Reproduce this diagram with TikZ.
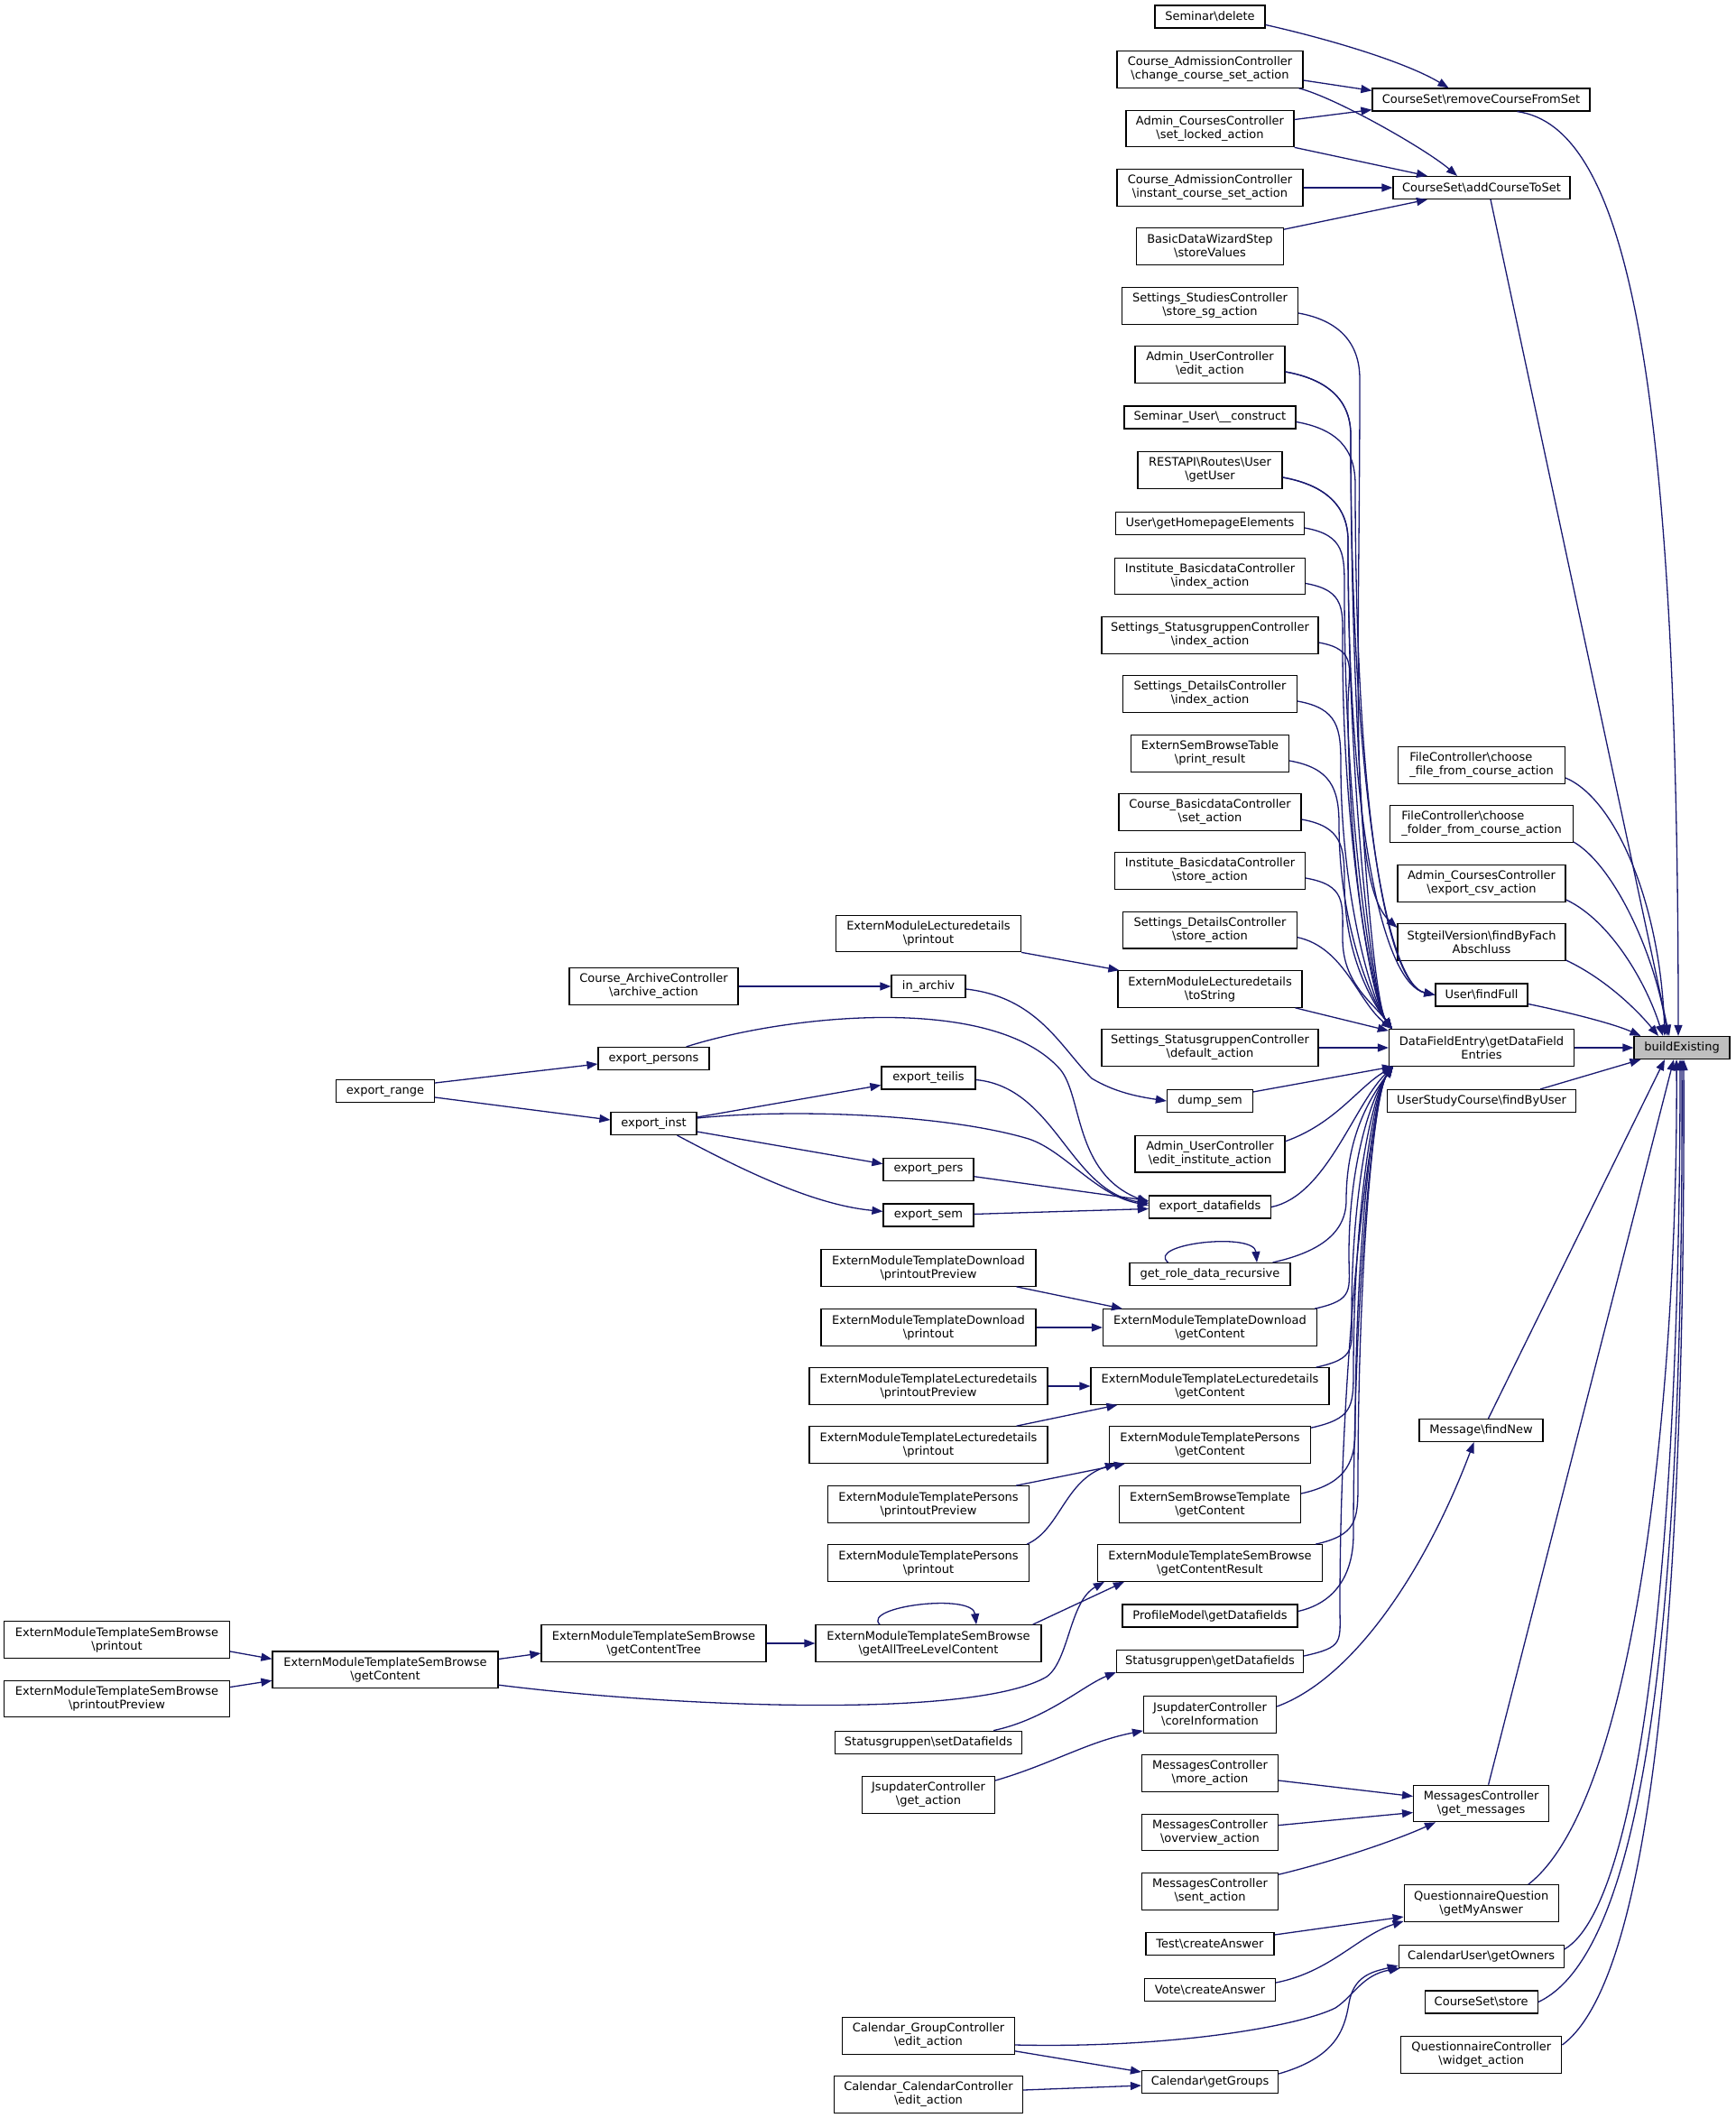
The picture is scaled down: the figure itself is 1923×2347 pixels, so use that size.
\documentclass[tikz,border=0pt]{standalone}
\usepackage{fontspec}
\setmainfont{DejaVu Sans}
\usetikzlibrary{arrows.meta,calc}
\definecolor{edgec}{HTML}{191970}
\definecolor{hilite}{HTML}{BFBFBF}
\newcommand{\mybs}{\textbackslash}
\newcommand{\dfup}[3]{\draw[e] (#1) .. controls +(45,8) and +(0,-40) .. (#2) .. controls +(0,#3) and +(-22,-30) .. ($(dfe.north west)+(4,0)$);}
\newcommand{\dfdn}[3]{\draw[e] (#1) .. controls +(45,-10) and +(0,40) .. (#2) .. controls +(0,-#3) and +(-22,30) .. ($(dfe.south west)+(5,0)$);}
\begin{document}
\begin{tikzpicture}[x=1pt,y=-1pt,
  nd/.style={draw=black,line width=1.2pt,fill=white,font=\fontsize{13}{15}\selectfont,inner xsep=5pt,inner ysep=1pt,minimum height=25pt,align=center},
  nd2/.style={nd,minimum height=40.5pt},
  e/.style={draw=edgec,line width=1.3pt,-{Triangle[length=12pt,width=9pt]}},
]
\useasboundingbox (0,0) rectangle (1923,2347);
% rank 2
\node[nd,minimum width=122pt] (sd) at (1341,18.5) {Seminar\mybs delete};
\node[nd2,minimum width=206pt] (cac) at (1341,77) {Course\_AdmissionController\\\mybs change\_course\_set\_action};
\node[nd2,minimum width=186pt] (csl) at (1341,142.5) {Admin\_CoursesController\\\mybs set\_locked\_action};
\node[nd2,minimum width=206pt] (cai) at (1341,208) {Course\_AdmissionController\\\mybs instant\_course\_set\_action};
\node[nd2,minimum width=163pt] (bdw) at (1341,273) {BasicDataWizardStep\\\mybs storeValues};
\node[nd2,minimum width=195pt] (ssg) at (1341,339) {Settings\_StudiesController\\\mybs store\_sg\_action};
\node[nd2,minimum width=166pt] (aue) at (1341,404) {Admin\_UserController\\\mybs edit\_action};
\node[nd,minimum width=190pt] (suc) at (1341,462.5) {Seminar\_User\mybs\_\_construct};
\node[nd2,minimum width=160pt] (rgu) at (1341,521) {RESTAPI\mybs Routes\mybs User\\\mybs getUser};
\node[nd,minimum width=209pt] (uhe) at (1341,580) {User\mybs getHomepageElements};
\node[nd2,minimum width=211pt] (ibi) at (1341,638.5) {Institute\_BasicdataController\\\mybs index\_action};
\node[nd2,minimum width=240pt] (ssi) at (1341,704) {Settings\_StatusgruppenController\\\mybs index\_action};
\node[nd2,minimum width=193pt] (sdi) at (1341,769) {Settings\_DetailsController\\\mybs index\_action};
\node[nd2,minimum width=175pt] (esp) at (1341,835) {ExternSemBrowseTable\\\mybs print\_result};
\node[nd2,minimum width=202pt] (cbs) at (1341,900) {Course\_BasicdataController\\\mybs set\_action};
\node[nd2,minimum width=211pt] (ibs) at (1341,965) {Institute\_BasicdataController\\\mybs store\_action};
\node[nd2,minimum width=193pt] (sds) at (1341,1030.7) {Settings\_DetailsController\\\mybs store\_action};
\node[nd2,minimum width=204pt] (elt) at (1341,1096) {ExternModuleLecturedetails\\\mybs toString};
\node[nd2,minimum width=240pt] (ssd) at (1341,1161) {Settings\_StatusgruppenController\\\mybs default\_action};
\node[nd,minimum width=95pt] (dsm) at (1341,1220) {dump\_sem};
\node[nd2,minimum width=166pt] (aui) at (1341,1278.7) {Admin\_UserController\\\mybs edit\_institute\_action};
\node[nd,minimum width=135pt] (exd) at (1341,1337.5) {export\_datafields};
\node[nd,minimum width=178pt] (grd) at (1341,1412) {get\_role\_data\_recursive};
\node[nd2,minimum width=237pt] (tdg) at (1341,1471) {ExternModuleTemplateDownload\\\mybs getContent};
\node[nd2,minimum width=264pt] (tlg) at (1341,1536) {ExternModuleTemplateLecturedetails\\\mybs getContent};
\node[nd2,minimum width=223pt] (tpg) at (1341,1601) {ExternModuleTemplatePersons\\\mybs getContent};
\node[nd2,minimum width=201pt] (sbt) at (1341,1667) {ExternSemBrowseTemplate\\\mybs getContent};
\node[nd2,minimum width=249pt] (tsr) at (1341,1732) {ExternModuleTemplateSemBrowse\\\mybs getContentResult};
\node[nd,minimum width=194pt] (pmg) at (1341,1790.5) {ProfileModel\mybs getDatafields};
\node[nd,minimum width=207pt] (sgg) at (1341,1841) {Statusgruppen\mybs getDatafields};
\node[nd2,minimum width=147pt] (jci) at (1341,1900) {JsupdaterController\\\mybs coreInformation};
\node[nd2,minimum width=151pt] (mma) at (1341,1965) {MessagesController\\\mybs more\_action};
\node[nd2,minimum width=151pt] (moa) at (1341,2030.6) {MessagesController\\\mybs overview\_action};
\node[nd2,minimum width=151pt] (msa) at (1341,2096) {MessagesController\\\mybs sent\_action};
\node[nd,minimum width=142pt] (tca) at (1341,2154) {Test\mybs createAnswer};
\node[nd,minimum width=145pt] (vca) at (1341,2205) {Vote\mybs createAnswer};
\node[nd,minimum width=151pt] (cgg) at (1341,2307) {Calendar\mybs getGroups};
% rank 1
\node[nd,minimum width=241pt] (rcs) at (1641.5,110.5) {CourseSet\mybs removeCourseFromSet};
\node[nd,minimum width=196pt] (acs) at (1642,208) {CourseSet\mybs addCourseToSet};
\node[nd2,minimum width=185pt,align=left] (fcf) at (1642,848) {FileController\mybs choose\\\_file\_from\_course\_action};
\node[nd2,minimum width=203pt,align=left] (fcd) at (1642,913) {FileController\mybs choose\\\_folder\_from\_course\_action};
\node[nd2,minimum width=186pt] (ace) at (1642,979) {Admin\_CoursesController\\\mybs export\_csv\_action};
\node[nd2,minimum width=186pt] (sv) at (1642,1044) {StgteilVersion\mybs findByFach\\Abschluss};
\node[nd,minimum width=102pt] (uff) at (1642,1102.5) {User\mybs findFull};
\node[nd2,minimum width=205pt] (dfe) at (1642,1161) {DataFieldEntry\mybs getDataField\\Entries};
\node[nd,minimum width=209pt] (usc) at (1642,1220) {UserStudyCourse\mybs findByUser};
\node[nd,minimum width=137pt] (mfn) at (1641.5,1585) {Message\mybs findNew};
\node[nd2,minimum width=150pt] (mgm) at (1641.6,1998.5) {MessagesController\\\mybs get\_messages};
\node[nd2,minimum width=171pt] (qgm) at (1641.7,2109) {QuestionnaireQuestion\\\mybs getMyAnswer};
\node[nd,minimum width=183pt] (cgo) at (1641.7,2168) {CalendarUser\mybs getOwners};
\node[nd,minimum width=125pt] (css) at (1641.7,2218.5) {CourseSet\mybs store};
\node[nd2,minimum width=178pt] (qwa) at (1641.8,2277) {QuestionnaireController\\\mybs widget\_action};
% rank 0
\node[nd,minimum width=106pt,fill=hilite] (be) at (1864,1161) {buildExisting};
% rank 3
\node[nd2,minimum width=205pt] (elp) at (1029,1034.5) {ExternModuleLecturedetails\\\mybs printout};
\node[nd,minimum width=82pt] (iar) at (1029,1093) {in\_archiv};
\node[nd,minimum width=104pt] (ete) at (1029,1194.5) {export\_teilis};
\node[nd,minimum width=100pt] (epe) at (1029,1295.7) {export\_pers};
\node[nd,minimum width=100pt] (ese) at (1029,1346.4) {export\_sem};
\node[nd2,minimum width=238pt] (dpp) at (1029,1405) {ExternModuleTemplateDownload\\\mybs printoutPreview};
\node[nd2,minimum width=238pt] (dpo) at (1029,1471) {ExternModuleTemplateDownload\\\mybs printout};
\node[nd2,minimum width=264pt] (lpp) at (1029,1536) {ExternModuleTemplateLecturedetails\\\mybs printoutPreview};
\node[nd2,minimum width=264pt] (lpo) at (1029,1601) {ExternModuleTemplateLecturedetails\\\mybs printout};
\node[nd2,minimum width=223pt] (ppp) at (1029,1667) {ExternModuleTemplatePersons\\\mybs printoutPreview};
\node[nd2,minimum width=223pt] (ppo) at (1029,1732) {ExternModuleTemplatePersons\\\mybs printout};
\node[nd2,minimum width=250pt] (atl) at (1029,1821) {ExternModuleTemplateSemBrowse\\\mybs getAllTreeLevelContent};
\node[nd,minimum width=207pt] (ssf) at (1029,1930.7) {Statusgruppen\mybs setDatafields};
\node[nd2,minimum width=147pt] (jga) at (1029,1989) {JsupdaterController\\\mybs get\_action};
\node[nd2,minimum width=191pt] (cge) at (1029,2256) {Calendar\_GroupController\\\mybs edit\_action};
\node[nd2,minimum width=209pt] (cce) at (1029,2321) {Calendar\_CalendarController\\\mybs edit\_action};
% rank 4
\node[nd2,minimum width=187pt] (caa) at (724.5,1093) {Course\_ArchiveController\\\mybs archive\_action};
\node[nd,minimum width=123pt] (eps) at (724.5,1173) {export\_persons};
\node[nd,minimum width=95pt] (ein) at (724.5,1245) {export\_inst};
\node[nd2,minimum width=249pt] (sct) at (724.5,1821) {ExternModuleTemplateSemBrowse\\\mybs getContentTree};
% rank 5
\node[nd,minimum width=109pt] (erg) at (427,1209) {export\_range};
\node[nd2,minimum width=250pt] (sgc) at (427,1850.3) {ExternModuleTemplateSemBrowse\\\mybs getContent};
% rank 6
\node[nd2,minimum width=250pt] (spo) at (129.5,1817) {ExternModuleTemplateSemBrowse\\\mybs printout};
\node[nd2,minimum width=250pt] (spp) at (129.5,1882.5) {ExternModuleTemplateSemBrowse\\\mybs printoutPreview};

% ---- edges into CourseSet
\draw[e] ($(sd.east)+(0,9)$) .. controls (1480,45) and (1560,70) .. ($(rcs.north)+(-36,0)$);
\draw[e] ($(cac.east)+(0,12)$) -- ($(rcs.north west)+(0,3)$);
\draw[e] ($(cac.south east)+(-5,0)$) .. controls (1480,108) and (1580,165) .. ($(acs.north)+(-27,0)$);
\draw[e] ($(csl.east)+(0,-10)$) -- ($(rcs.south west)+(0,-2)$);
\draw[e] (csl.south east) -- ($(acs.north)+(-60,0)$);
\draw[e] (cai.east) -- (acs.west);
\draw[e] ($(bdw.north east)+(0,2)$) -- ($(acs.south)+(-60,0)$);
% ---- edges into buildExisting
\draw[e] ($(rcs.south)+(40,0)$) .. controls (1800,140) and (1860,400) .. ($(be.north)+(-4,0)$);
\draw[e] ($(acs.south)+(10,0)$) -- ($(be.north)+(-14,0)$);
\draw[e] ($(fcf.east)+(0,14)$) .. controls (1790,885) and (1840,1000) .. ($(be.north)+(-19,0)$);
\draw[e] ($(fcd.east)+(0,20)$) .. controls (1790,960) and (1835,1060) .. ($(be.north)+(-16,0)$);
\draw[e] ($(ace.east)+(0,18)$) .. controls (1785,1020) and (1825,1090) .. ($(be.north)+(-21,0)$);
\draw[e] ($(sv.east)+(0,20)$) .. controls (1780,1085) and (1815,1120) .. ($(be.north)+(-26,0)$);
\draw[e] ($(uff.east)+(0,10)$) .. controls (1740,1122) and (1790,1135) .. ($(be.north west)+(8,0)$);
\draw[e] (dfe.east) -- (be.west);
\draw[e] ($(usc.north east)+(-40,0)$) -- ($(be.south west)+(8,0)$);
\draw[e] ($(mfn.north)+(8,0)$) -- ($(be.south)+(-19,0)$);
\draw[e] ($(mgm.north)+(8,0)$) -- ($(be.south)+(-9,0)$);
\draw[e] ($(qgm.north east)+(-34,0)$) .. controls (1820,1990) and (1860,1500) .. ($(be.south)+(-6,0)$);
\draw[e] ($(cgo.east)+(0,-8)$) .. controls (1820,2110) and (1862,1700) .. ($(be.south)+(-2,0)$);
\draw[e] (css.east) .. controls (1830,2160) and (1866,1750) .. ($(be.south)+(0,0)$);
\draw[e] ($(qwa.east)+(0,-11)$) .. controls (1835,2190) and (1868,1750) .. ($(be.south)+(2,0)$);
% ---- upper bundle
\draw[e] ($(ssg.east)+(0,8)$) .. controls +(45,8) and +(0,-40) .. (1507,420) .. controls +(0,330) and +(-55,-50) .. ($(sv.west)+(0,-16)$);
\dfup{$(aue.east)+(0,8)$}{1497,482}{330}
\draw[e] ($(aue.east)+(0,8)$) .. controls +(45,8) and +(0,-40) .. (1497,482) .. controls +(0,380) and +(-55,-12) .. (uff.west);
\draw[e] ($(suc.east)+(0,5)$) .. controls +(45,8) and +(0,-40) .. (1502,537) .. controls +(0,350) and +(-55,-12) .. (uff.west);
\dfup{$(rgu.east)+(0,8)$}{1494,599}{270}
\draw[e] ($(rgu.east)+(0,8)$) .. controls +(45,8) and +(0,-40) .. (1494,599) .. controls +(0,330) and +(-55,-12) .. (uff.west);
\dfup{$(uhe.east)+(0,5)$}{1490,655}{243}
\dfup{$(ibi.east)+(0,8)$}{1488,716}{212}
\dfup{$(ssi.east)+(0,8)$}{1494,782}{180}
\dfup{$(sdi.east)+(0,8)$}{1486,847}{147}
\dfup{$(esp.east)+(0,8)$}{1484,913}{114}
\dfup{$(cbs.east)+(0,8)$}{1490,978}{82}
\dfup{$(ibs.east)+(0,8)$}{1488,1040}{50}
\draw[e] ($(sds.east)+(0,8)$) .. controls (1490,1050) and (1505,1110) .. ($(dfe.north west)+(4,0)$);
\draw[e] ($(elt.south east)+(-8,0)$) -- ($(dfe.north west)+(0,2)$);
\draw[e] (ssd.east) -- (dfe.west);
% ---- lower bundle
\draw[e] ($(dsm.north east)+(0,3)$) -- ($(dfe.south west)+(5,0)$);
\draw[e] ($(aui.east)+(0,-14)$) .. controls (1480,1245) and (1505,1205) .. ($(dfe.south west)+(5,0)$);
\draw[e] (exd.east) .. controls (1470,1325) and (1500,1225) .. ($(dfe.south west)+(5,0)$);
\dfdn{$(grd.north east)+(-20,0)$}{1492,1330}{75}
\dfdn{$(tdg.north east)+(-3,0)$}{1495,1390}{105}
\dfdn{$(tlg.north east)+(-15,0)$}{1498,1455}{137}
\dfdn{$(tpg.north east)+(0,2)$}{1500,1520}{170}
\dfdn{$(sbt.east)+(0,-12)$}{1502,1585}{200}
\dfdn{$(tsr.north east)+(-8,0)$}{1505,1645}{232}
\dfdn{$(pmg.east)+(0,-5)$}{1500,1700}{260}
\dfdn{$(sgg.east)+(0,-6)$}{1485,1780}{300}
% ---- self loops
\draw[e] ($(grd.north)+(-46.5,0)$) .. controls (1270,1378) and (1390,1365) .. ($(grd.north)+(52,0)$);
\draw[e] ($(atl.north)+(-54,0)$) .. controls (955,1780) and (1078,1765) .. ($(atl.north)+(53,0)$);
% ---- rank 3 -> rank 2
\draw[e] (elp.south east) -- ($(elt.north west)+(2,0)$);
\draw[e] (caa.east) -- (iar.west);
\draw[e] ($(iar.east)+(0,3)$) .. controls (1150,1105) and (1175,1160) .. (1210,1195) .. controls (1235,1210) and (1260,1215) .. (dsm.west);
\draw[e] ($(erg.east)+(0,-9)$) -- ($(eps.west)+(0,6)$);
\draw[e] ($(erg.east)+(0,7)$) -- ($(ein.west)+(0,-4)$);
\draw[e] ($(eps.north east)+(-26,0)$) .. controls (870,1125) and (1100,1100) .. (1175,1185) .. controls (1200,1215) and (1190,1300) .. ($(exd.west)+(0,-5)$);
\draw[e] ($(ein.east)+(0,-7)$) -- ($(ete.west)+(0,8)$);
\draw[e] ($(ein.east)+(0,-6)$) .. controls (880,1228) and (1050,1235) .. (1140,1262) .. controls (1180,1275) and (1215,1325) .. ($(exd.west)+(0,-2)$);
\draw[e] ($(ein.east)+(0,9)$) -- ($(epe.west)+(0,-6)$);
\draw[e] ($(ein.south)+(26,0)$) .. controls (820,1295) and (900,1335) .. ($(ese.west)+(0,-4)$);
\draw[e] ($(ete.east)+(0,2)$) .. controls (1170,1205) and (1185,1320) .. ($(exd.west)+(0,-4)$);
\draw[e] ($(epe.east)+(0,8)$) -- ($(exd.west)+(0,-7)$);
\draw[e] ($(ese.east)+(0,-1)$) -- ($(exd.west)+(0,2)$);
\draw[e] ($(dpp.south east)+(-22,0)$) -- ($(tdg.north west)+(22,0)$);
\draw[e] (dpo.east) -- (tdg.west);
\draw[e] (lpp.east) -- (tlg.west);
\draw[e] ($(lpo.north east)+(-35,0)$) -- ($(tlg.south west)+(30,0)$);
\draw[e] ($(ppp.north east)+(-15,0)$) -- ($(tpg.south west)+(18,0)$);
\draw[e] ($(ppo.north east)+(-3,0)$) .. controls (1175,1695) and (1180,1640) .. ($(tpg.south west)+(8,0)$);
\draw[e] ($(atl.north east)+(-10,0)$) -- ($(tsr.south west)+(30,0)$);
\draw[e] (sct.east) -- (atl.west);
\draw[e] ($(sgc.north east)+(0,9)$) -- ($(sct.west)+(0,11)$);
\draw[e] ($(sgc.south east)+(0,-4)$) .. controls (750,1892) and (1080,1905) .. (1160,1858) .. controls (1185,1840) and (1185,1775) .. ($(tsr.south west)+(8,0)$);
\draw[e] ($(spo.east)+(0,13)$) -- ($(sgc.west)+(0,-12)$);
\draw[e] ($(spp.east)+(0,-13)$) -- ($(sgc.west)+(0,12)$);
\draw[e] ($(ssf.north east)+(-32,0)$) .. controls (1160,1905) and (1200,1868) .. ($(sgg.south west)+(0,-1)$);
\draw[e] ($(jga.east)+(0,-16)$) .. controls (1165,1955) and (1205,1930) .. ($(jci.south west)+(0,-3)$);
\draw[e] ($(jci.east)+(0,-9)$) .. controls (1500,1860) and (1580,1740) .. ($(mfn.south)+(-8,0)$);
\draw[e] ($(mma.east)+(0,8)$) -- ($(mgm.west)+(0,-8)$);
\draw[e] ($(moa.east)+(0,-8)$) -- ($(mgm.west)+(0,10)$);
\draw[e] ($(msa.north east)+(0,2)$) .. controls (1480,2062) and (1545,2040) .. ($(mgm.south west)+(25,0)$);
\draw[e] ($(tca.east)+(0,-10)$) -- ($(qgm.west)+(0,15)$);
\draw[e] ($(vca.east)+(0,-8)$) .. controls (1475,2185) and (1505,2145) .. ($(qgm.south west)+(0,-1)$);
\draw[e] ($(cge.east)+(0,10)$) .. controls (1300,2270) and (1440,2245) .. (1480,2225) .. controls (1500,2212) and (1510,2188) .. ($(cgo.south west)+(2,0)$);
\draw[e] ($(cge.south east)+(0,-4)$) -- ($(cgg.west)+(0,-11)$);
\draw[e] ($(cce.east)+(0,-5)$) -- ($(cgg.west)+(0,4)$);
\draw[e] ($(cgg.east)+(0,-9)$) .. controls (1480,2280) and (1490,2250) .. (1495,2220) .. controls (1500,2190) and (1520,2185) .. ($(cgo.south west)+(0,-3)$);
\end{tikzpicture}
\end{document}
